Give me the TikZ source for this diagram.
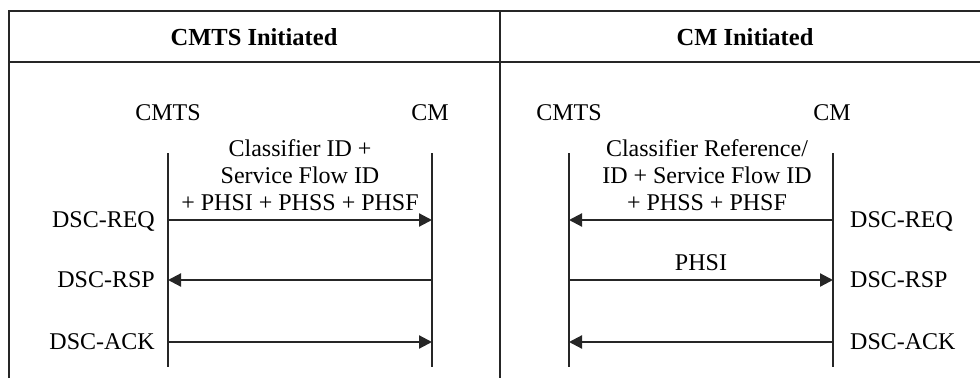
\documentclass[tikz,border=0pt]{standalone}
\usepackage{fontspec}
\setmainfont{Liberation Serif}
\usepackage{tikz}
\usetikzlibrary{arrows.meta, positioning, calc}
\tikzset{
  framel/.style={line width=2.2pt,color=black!85},
  lifeline/.style={line width=2.2pt,color=black!85},
  msgarr/.style={-{Triangle[length=13pt,width=13pt]},line width=2.2pt,color=black!85},
  hdrtext/.style={inner sep=0pt,font=\fontsize{24.5}{28}\selectfont\bfseries},
  actor/.style={inner sep=0pt,font=\fontsize{24}{28}\selectfont},
  msgname/.style={inner sep=0pt,font=\fontsize{24}{28}\selectfont},
  msglabel/.style={inner sep=0pt,align=center,anchor=south,font=\fontsize{24}{27}\selectfont}
}

\begin{document}
\begin{tikzpicture}[x=1pt,y=-1pt]
  \useasboundingbox (0,0) rectangle (980,378);

  % table frame
  \draw[framel] (9,378) -- (9,11) -- (980,11);
  \draw[framel] (9,62) -- (980,62);
  \draw[framel] (500,11) -- (500,378);

  \node[hdrtext] (hleft) at (254,37) {CMTS Initiated};
  \node[hdrtext] (hright) at (745,37) {CM Initiated};

  % message rows
  \coordinate (yreq) at (0,220);
  \coordinate (yrsp) at (0,280);
  \coordinate (yack) at (0,342);

  % left panel: CMTS initiated
  \node[actor] (cmtsA) at (168,113) {CMTS};
  \node[actor] (cmA) at (430,113) {CM};
  \coordinate (cmtsAt) at (168,153); \coordinate (cmtsAb) at (168,367);
  \coordinate (cmAt) at (432,153);   \coordinate (cmAb) at (432,367);
  \draw[lifeline] (cmtsAt) -- (cmtsAb);
  \draw[lifeline] (cmAt) -- (cmAb);

  \node[msgname,anchor=base east] (reqA) at ($(cmtsAt |- yreq)+(-13,7)$) {DSC-REQ};
  \node[msgname,anchor=base east] (rspA) at ($(cmtsAt |- yrsp)+(-13,7)$) {DSC-RSP};
  \node[msgname,anchor=base east] (ackA) at ($(cmtsAt |- yack)+(-13,7)$) {DSC-ACK};
  \node[msglabel] (parA) at ($(cmtsAt |- yreq)!0.5!(cmAt |- yreq)+(0,-9)$)
    {Classifier ID +\\Service Flow ID\\+ PHSI + PHSS + PHSF};

  \draw[msgarr] (cmtsAt |- yreq) -- (cmAt |- yreq);
  \draw[msgarr] (cmAt |- yrsp) -- (cmtsAt |- yrsp);
  \draw[msgarr] (cmtsAt |- yack) -- (cmAt |- yack);

  % right panel: CM initiated
  \node[actor] (cmtsB) at (569,113) {CMTS};
  \node[actor] (cmB) at (832,113) {CM};
  \coordinate (cmtsBt) at (569,153); \coordinate (cmtsBb) at (569,367);
  \coordinate (cmBt) at (833,153);   \coordinate (cmBb) at (833,367);
  \draw[lifeline] (cmtsBt) -- (cmtsBb);
  \draw[lifeline] (cmBt) -- (cmBb);

  \node[msgname,anchor=base west] (reqB) at ($(cmBt |- yreq)+(17,7)$) {DSC-REQ};
  \node[msgname,anchor=base west] (rspB) at ($(cmBt |- yrsp)+(17,7)$) {DSC-RSP};
  \node[msgname,anchor=base west] (ackB) at ($(cmBt |- yack)+(17,7)$) {DSC-ACK};
  \node[msglabel] (parB) at ($(cmtsBt |- yreq)!0.5!(cmBt |- yreq)+(6,-9)$)
    {Classifier Reference/\\ID + Service Flow ID\\+ PHSS + PHSF};
  \node[msglabel] (phsiB) at ($(cmtsBt |- yrsp)!0.5!(cmBt |- yrsp)+(0,-9)$) {PHSI};

  \draw[msgarr] (cmBt |- yreq) -- (cmtsBt |- yreq);
  \draw[msgarr] (cmtsBt |- yrsp) -- (cmBt |- yrsp);
  \draw[msgarr] (cmBt |- yack) -- (cmtsBt |- yack);
\end{tikzpicture}
\end{document}
